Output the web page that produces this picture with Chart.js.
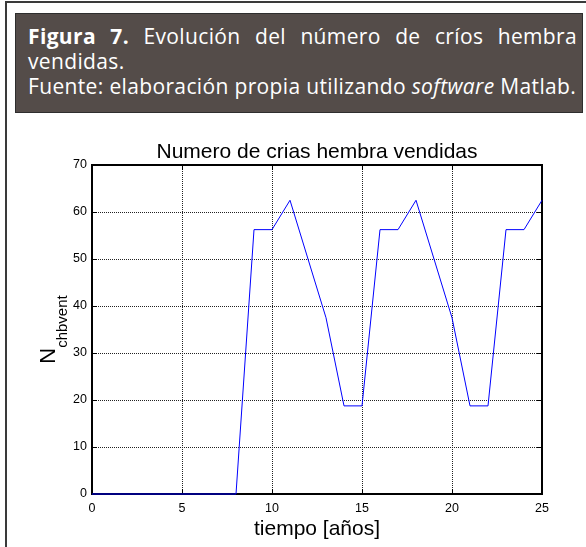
<!DOCTYPE html>
<html>
<head>
<meta charset="utf-8">
<script src="https://cdn.jsdelivr.net/npm/chart.js@4.4.0/dist/chart.umd.min.js"></script>
<style>
html, body { margin: 0; padding: 0; background: #fff; }
body { width: 586px; height: 547px; position: relative; overflow: hidden; }
#frame { position: absolute; left: 5px; top: 1px; width: 640px; height: 640px; border: 2px solid #3a3a3a; box-sizing: border-box; }
#caption {
    position: absolute; left: 15px; top: 13px; width: 568px; height: 100px;
    box-sizing: border-box; background: #544c49; border: 1px solid #2e2e2e;
    color: #fff; font-family: "Open Sans", "Noto Sans", sans-serif; font-size: 21px;
    letter-spacing: 0.35px; line-height: 25px; padding: 10px 5px 0 12px; white-space: nowrap;
}
#caption .l1 { text-align: justify; text-align-last: justify; }
#chart { position: absolute; left: 0; top: 0; }
</style>
</head>
<body>
<div id="frame"></div>
<div id="caption">
    <div class="l1"><b>Figura 7.</b> Evolución del número de críos hembra</div>
    <div>vendidas.</div>
    <div>Fuente: elaboración propia utilizando <i>software</i> Matlab.</div>
</div>
<canvas id="chart" width="586" height="547"></canvas>
<script>
// Data
const years = [0, 1, 2, 3, 4, 5, 6, 7, 8, 9, 10, 11, 12, 13, 14, 15, 16, 17, 18, 19, 20, 21, 22, 23, 24, 25];
const soldFemales = [0, 0, 0, 0, 0, 0, 0, 0, 0, 56.25, 56.25, 62.5, 50, 37.5, 18.75, 18.75,
    56.25, 56.25, 62.5, 50, 37.5, 18.75, 18.75, 56.25, 56.25, 62.5];
const xTicks = [0, 5, 10, 15, 20, 25];
const yTicks = [0, 10, 20, 30, 40, 50, 60, 70];

const chartTitle = 'Numero de crias hembra vendidas';
const xTitle = 'tiempo [años]';
const yTitleMain = 'N';
const yTitleSub = 'chbvent';

const fontFamily = '"Liberation Sans", Arial, Helvetica, sans-serif';
Chart.defaults.font.family = fontFamily;
Chart.defaults.color = '#000';

// Matlab-style box, inward ticks and subscripted y label
const matlabAxes = {
    id: 'matlabAxes',
    beforeDatasetsDraw(chart) {
        const { ctx, chartArea: a, scales } = chart;
        const len = 5;
        ctx.save();
        ctx.strokeStyle = '#000';
        ctx.lineWidth = 1;
        ctx.beginPath();
        xTicks.forEach(v => {
            const px = Math.round(scales.x.getPixelForValue(v)) + 0.5;
            ctx.moveTo(px, a.bottom); ctx.lineTo(px, a.bottom - len);
            ctx.moveTo(px, a.top); ctx.lineTo(px, a.top + len);
        });
        yTicks.forEach(v => {
            const py = Math.round(scales.y.getPixelForValue(v)) + 0.5;
            ctx.moveTo(a.left, py); ctx.lineTo(a.left + len, py);
            ctx.moveTo(a.right, py); ctx.lineTo(a.right - len, py);
        });
        ctx.stroke();
        ctx.lineWidth = 2;
        ctx.strokeRect(a.left, a.top, a.right - a.left, a.bottom - a.top);
        ctx.restore();
    },
    afterDraw(chart) {
        const { ctx, chartArea: a } = chart;
        const midY = (a.top + a.bottom) / 2;
        ctx.save();
        ctx.fillStyle = '#000';
        ctx.textBaseline = 'alphabetic';
        ctx.font = '22px ' + fontFamily;
        const wMain = ctx.measureText(yTitleMain).width;
        ctx.font = '15px ' + fontFamily;
        const wSub = ctx.measureText(yTitleSub).width;
        ctx.translate(55, midY + (wMain + wSub) / 2);
        ctx.rotate(-Math.PI / 2);
        ctx.font = '22px ' + fontFamily;
        ctx.fillText(yTitleMain, 0, 0);
        ctx.font = '15px ' + fontFamily;
        ctx.fillText(yTitleSub, wMain, 12);
        ctx.restore();
    }
};

new Chart(document.getElementById('chart'), {
    type: 'line',
    data: {
        datasets: [{
            data: years.map((t, i) => ({ x: t, y: soldFemales[i] })),
            borderColor: '#0000ff',
            borderWidth: 1,
            pointRadius: 0,
            tension: 0,
            fill: false,
            clip: 2
        }]
    },
    options: {
        responsive: false,
        animation: false,
        devicePixelRatio: 1,
        layout: { padding: { top: 139.4, left: 0, right: 44, bottom: 0 } },
        plugins: {
            legend: { display: false },
            tooltip: { enabled: false },
            title: {
                display: true,
                text: chartTitle,
                fullSize: false,
                color: '#000',
                font: { size: 21, weight: 'normal', lineHeight: 1.2 },
                padding: { top: 0, bottom: 0.4 }
            }
        },
        scales: {
            x: {
                type: 'linear',
                min: 0,
                max: 25,
                afterFit: s => { s.height = 53; },
                afterBuildTicks: s => { s.ticks = xTicks.map(v => ({ value: v })); },
                ticks: { font: { size: 12.5 }, color: '#000', padding: 7, maxRotation: 0 },
                grid: { color: '#222', lineWidth: 1, drawTicks: false },
                border: { display: false, dash: [1, 1] },
                title: {
                    display: true,
                    text: xTitle,
                    color: '#000',
                    font: { size: 21, lineHeight: 1.2 },
                    padding: { top: 0, bottom: 5.4 }
                }
            },
            y: {
                type: 'linear',
                min: 0,
                max: 70,
                afterFit: s => { s.width = 92; },
                afterBuildTicks: s => { s.ticks = yTicks.map(v => ({ value: v })); },
                ticks: { font: { size: 12.5 }, color: '#000', padding: 5 },
                grid: { color: '#222', lineWidth: 1, drawTicks: false },
                border: { display: false, dash: [1, 1] }
            }
        }
    },
    plugins: [matlabAxes]
});
</script>
</body>
</html>
